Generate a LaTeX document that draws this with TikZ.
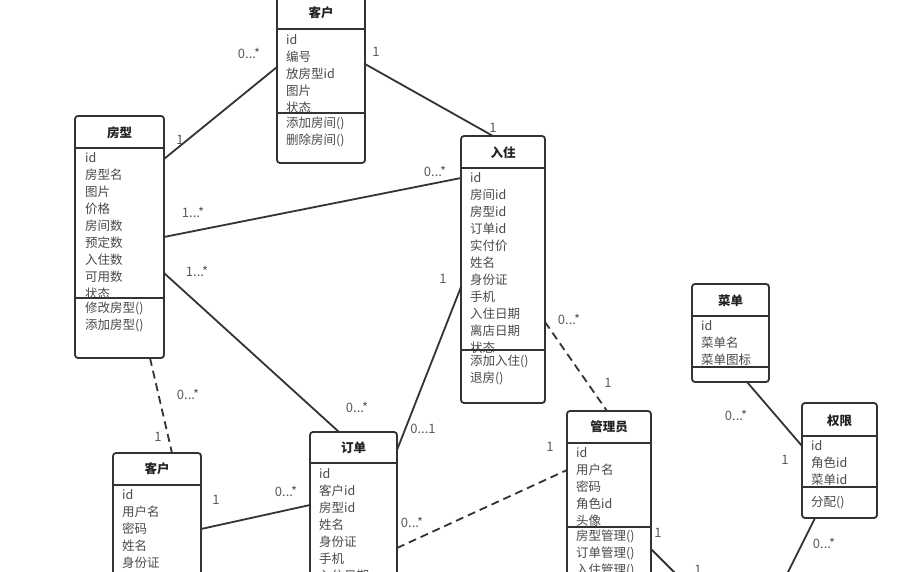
\documentclass[tikz,border=0pt]{standalone}
\usepackage{fontspec}
\setmainfont{Noto Sans CJK SC}
\begin{document}
\begin{tikzpicture}[x=1pt,y=-1pt]
\definecolor{linec}{HTML}{333333}
\definecolor{attrc}{HTML}{4A4A4A}
\definecolor{titlec}{HTML}{222222}
\definecolor{multc}{HTML}{5A5A5A}
\tikzset{
  cls/.style={draw=linec, line width=1.8pt, rounded corners=3pt, fill=white, inner sep=0pt, outer sep=0pt, anchor=north west},
  ttl/.style={font=\fontsize{12.5}{15}\selectfont\bfseries, text=titlec, inner sep=0pt},
  attr/.style={font=\fontsize{12.5}{15}\selectfont, text=attrc, anchor=west, inner sep=0pt},
  sepl/.style={draw=linec, line width=1.8pt},
  conn/.style={draw=linec, line width=1.8pt},
  dconn/.style={conn, dash pattern=on 8pt off 5pt},
  mult/.style={font=\fontsize{13}{15}\selectfont, text=multc, inner sep=0pt}
}
\useasboundingbox (0,0) rectangle (900,572);
\clip (0,0) rectangle (900,572);
\fill[white] (0,0) rectangle (900,572);

% ---------- connectors ----------
\coordinate (a1) at (164,159); \coordinate (b1) at (277,67);
\coordinate (a2) at (365,64);  \coordinate (b2) at (493,136);
\coordinate (a3) at (164,237); \coordinate (b3) at (461,178);
\coordinate (a4) at (164,273); \coordinate (b4) at (339,432);
\coordinate (a5) at (150,358); \coordinate (b5) at (172,453);
\coordinate (a6) at (461,287); \coordinate (b6) at (397,450);
\coordinate (a7) at (545,322); \coordinate (b7) at (607,411);
\coordinate (a8) at (397,548); \coordinate (b8) at (567,470);
\coordinate (a9) at (201,529); \coordinate (b9) at (310,505);
\coordinate (a10) at (747,382); \coordinate (b10) at (802,446);
\coordinate (a11) at (651,549); \coordinate (b11) at (678,576);
\coordinate (a12) at (815,518); \coordinate (b12) at (786,576);
\draw[conn] (a1) -- (b1);
\draw[conn] (a2) -- (b2);
\draw[conn] (a3) -- (b3);
\draw[conn] (a4) -- (b4);
\draw[dconn] (a5) -- (b5);
\draw[conn] (a6) -- (b6);
\draw[dconn] (a7) -- (b7);
\draw[dconn] (a8) -- (b8);
\draw[conn] (a9) -- (b9);
\draw[conn] (a10) -- (b10);
\draw[conn] (a11) -- (b11);
\draw[conn] (a12) -- (b12);

% ---------- multiplicities ----------
\node[mult] (m1a) at (180,140) {1};
\node[mult] (m1b) at (249,53) {0...*};
\node[mult] (m2a) at (376,52) {1};
\node[mult] (m2b) at (493,128) {1};
\node[mult] (m3a) at (193,212) {1...*};
\node[mult] (m3b) at (435,171) {0...*};
\node[mult] (m4a) at (197,271) {1...*};
\node[mult] (m4b) at (357,407) {0...*};
\node[mult] (m5a) at (188,394) {0...*};
\node[mult] (m5b) at (158,437) {1};
\node[mult] (m6a) at (443,279) {1};
\node[mult] (m6b) at (423,429) {0...1};
\node[mult] (m7a) at (569,319) {0...*};
\node[mult] (m7b) at (608,383) {1};
\node[mult] (m8a) at (412,522) {0...*};
\node[mult] (m8b) at (550,447) {1};
\node[mult] (m9a) at (216,500) {1};
\node[mult] (m9b) at (286,491) {0...*};
\node[mult] (m10a) at (736,415) {0...*};
\node[mult] (m10b) at (785,460) {1};
\node[mult] (m11a) at (658,533) {1};
\node[mult] (m11b) at (698,570) {1};
\node[mult] (m12a) at (824,543) {0...*};

% ---------- class boxes ----------
% 客户 (top)
\node[cls, minimum width=88, minimum height=168] (kha) at (277,-5) {};
\node[ttl] (kha-t) at (321,13) {客户};
\foreach \t [count=\i from 0] in {id,编号,放房型id,图片,状态}
  \node[attr] (kha-a\i) at (286,40+17*\i) {\t};
\foreach \t [count=\i from 0] in {添加房间(),删除房间()}
  \node[attr] (kha-m\i) at (286,123+17*\i) {\t};
\draw[sepl] (kha.west |- 0,29) -- (kha.east |- 0,29);
\draw[sepl] (kha.west |- 0,113) -- (kha.east |- 0,113);

% 房型
\node[cls, minimum width=89, minimum height=242] (fx) at (75,116) {};
\node[ttl] (fx-t) at (119.5,133) {房型};
\foreach \t [count=\i from 0] in {id,房型名,图片,价格,房间数,预定数,入住数,可用数,状态}
  \node[attr] (fx-a\i) at (85,158+17*\i) {\t};
\foreach \t [count=\i from 0] in {修改房型(),添加房型()}
  \node[attr] (fx-m\i) at (85,308+17*\i) {\t};
\draw[sepl] (fx.west |- 0,148) -- (fx.east |- 0,148);
\draw[sepl] (fx.west |- 0,298) -- (fx.east |- 0,298);

% 入住
\node[cls, minimum width=84, minimum height=267] (rz) at (461,136) {};
\node[ttl] (rz-t) at (503,153) {入住};
\foreach \t [count=\i from 0] in {id,房间id,房型id,订单id,实付价,姓名,身份证,手机,入住日期,离店日期,状态}
  \node[attr] (rz-a\i) at (470,178+17*\i) {\t};
\foreach \t [count=\i from 0] in {添加入住(),退房()}
  \node[attr] (rz-m\i) at (470,361+17*\i) {\t};
\draw[sepl] (rz.west |- 0,168) -- (rz.east |- 0,168);
\draw[sepl] (rz.west |- 0,350) -- (rz.east |- 0,350);

% 菜单
\node[cls, minimum width=77, minimum height=98] (cd) at (692,284) {};
\node[ttl] (cd-t) at (730.5,301) {菜单};
\foreach \t [count=\i from 0] in {id,菜单名,菜单图标}
  \node[attr] (cd-a\i) at (701,326+17*\i) {\t};
\draw[sepl] (cd.west |- 0,316) -- (cd.east |- 0,316);
\draw[sepl] (cd.west |- 0,367) -- (cd.east |- 0,367);

% 权限
\node[cls, minimum width=75, minimum height=115] (qx) at (802,403) {};
\node[ttl] (qx-t) at (839.5,421) {权限};
\foreach \t [count=\i from 0] in {id,角色id,菜单id}
  \node[attr] (qx-a\i) at (811,446+17*\i) {\t};
\node[attr] (qx-m0) at (811,503) {分配()};
\draw[sepl] (qx.west |- 0,436) -- (qx.east |- 0,436);
\draw[sepl] (qx.west |- 0,487) -- (qx.east |- 0,487);

% 管理员
\node[cls, minimum width=84, minimum height=200] (gl) at (567,411) {};
\node[ttl] (gl-t) at (609,427) {管理员};
\foreach \t [count=\i from 0] in {id,用户名,密码,角色id,头像}
  \node[attr] (gl-a\i) at (576,453+17*\i) {\t};
\foreach \t [count=\i from 0] in {房型管理(),订单管理(),入住管理()}
  \node[attr] (gl-m\i) at (576,536+17*\i) {\t};
\draw[sepl] (gl.west |- 0,443) -- (gl.east |- 0,443);
\draw[sepl] (gl.west |- 0,527) -- (gl.east |- 0,527);

% 订单
\node[cls, minimum width=87, minimum height=200] (dd) at (310,432) {};
\node[ttl] (dd-t) at (353.5,448) {订单};
\foreach \t [count=\i from 0] in {id,客户id,房型id,姓名,身份证,手机,入住日期}
  \node[attr] (dd-a\i) at (319,474+17*\i) {\t};
\draw[sepl] (dd.west |- 0,463) -- (dd.east |- 0,463);

% 客户 (bottom)
\node[cls, minimum width=88, minimum height=200] (khb) at (113,453) {};
\node[ttl] (khb-t) at (157,469) {客户};
\foreach \t [count=\i from 0] in {id,用户名,密码,姓名,身份证}
  \node[attr] (khb-a\i) at (122,495+17*\i) {\t};
\draw[sepl] (khb.west |- 0,485) -- (khb.east |- 0,485);
\end{tikzpicture}
\end{document}
